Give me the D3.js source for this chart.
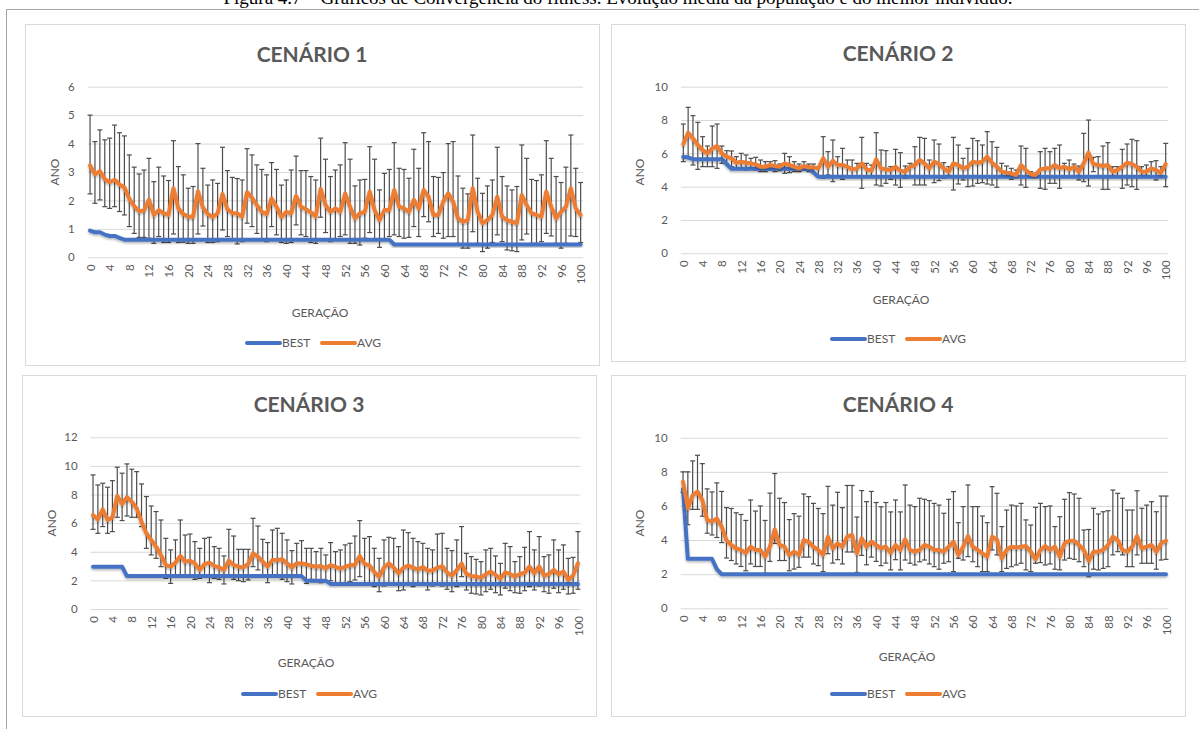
<!DOCTYPE html>
<html lang="pt">
<head>
<meta charset="utf-8">
<title>Convergência do fitness</title>
<script src="https://cdnjs.cloudflare.com/ajax/libs/d3/7.8.5/d3.min.js"></script>
<style>
  body { margin: 0; background: #fff; }
  svg text { font-family: Lato, "Open Sans", sans-serif; fill: #595959; }
  svg text.legenda { font-family: "Liberation Serif", "Times New Roman", serif; fill: #000; }
</style>
</head>
<body>
<svg width="1199" height="729"></svg>
<script>
// geracoes 0..100 (eixo X)
var geracoes = d3.range(0, 101);

// ---- Cenario 1 ----
var best1 = [0.94,0.88,0.88,0.8,0.75,0.75,0.68,0.62,0.62,0.62,
  0.62,0.62,0.62,0.62,0.62,0.62,0.62,0.62,0.62,0.62,
  0.62,0.62,0.62,0.62,0.62,0.62,0.62,0.62,0.62,0.62,
  0.62,0.62,0.62,0.62,0.62,0.62,0.62,0.62,0.62,0.62,
  0.62,0.62,0.62,0.62,0.62,0.62,0.62,0.62,0.62,0.62,
  0.62,0.62,0.62,0.62,0.62,0.62,0.62,0.62,0.62,0.62,
  0.62,0.62,0.45,0.45,0.45,0.45,0.45,0.45,0.45,0.45,
  0.45,0.45,0.45,0.45,0.45,0.45,0.45,0.45,0.45,0.45,
  0.45,0.45,0.45,0.45,0.45,0.45,0.45,0.45,0.45,0.45,
  0.45,0.45,0.45,0.45,0.45,0.45,0.45,0.45,0.45,0.45,
  0.45];
var avg1 = [3.23,2.92,3.03,2.75,2.64,2.73,2.56,2.46,2.06,1.8,
  1.62,1.65,2.03,1.49,1.66,1.55,1.49,2.43,1.72,1.52,
  1.43,1.43,2.32,1.75,1.52,1.42,1.55,2.23,1.69,1.56,
  1.54,1.43,2.29,2.1,1.84,1.6,1.52,2.07,1.78,1.42,
  1.6,1.55,2.16,1.78,1.69,1.58,1.44,2.41,1.84,1.6,
  1.72,1.6,2.25,1.78,1.37,1.55,1.6,2.31,1.66,1.31,
  1.66,1.66,2.37,1.78,1.72,1.6,2.02,1.72,2.37,2.13,
  1.49,1.49,1.96,2.25,1.96,1.37,1.25,1.31,2.43,1.6,
  1.2,1.31,1.49,2.13,1.43,1.31,1.25,1.2,2.19,1.84,
  1.55,1.49,1.43,2.31,1.78,1.37,1.6,1.78,2.43,1.72,
  1.49];
var hi1 = [5.0,4.07,4.48,4.13,4.19,4.65,4.38,4.27,3.6,3.17,
  2.93,3.07,3.48,2.66,3.17,2.86,2.7,4.1,3.19,2.9,
  2.43,2.49,4.0,3.13,2.54,2.72,2.6,3.87,3.05,2.81,
  2.77,2.72,3.82,3.6,3.25,3.09,2.9,3.33,3.09,2.54,
  2.72,3.07,3.56,3.05,3.05,2.84,2.72,4.19,3.45,2.84,
  3.07,3.25,4.03,3.45,2.51,2.72,2.74,3.89,3.45,2.37,
  2.95,3.09,4.03,3.13,3.09,2.78,3.8,3.13,4.38,4.07,
  2.84,2.81,2.98,4.0,4.07,2.86,2.43,2.23,4.3,2.78,
  2.25,2.51,2.72,3.87,2.84,2.51,2.37,2.49,3.95,3.48,
  2.74,2.7,2.9,4.1,3.48,2.84,2.63,3.17,4.3,3.13,
  2.63];
var lo1 = [2.23,1.9,2.02,1.78,1.72,1.78,1.61,1.49,1.08,0.84,
  0.7,0.7,0.67,0.49,0.73,0.52,0.52,0.82,0.52,0.53,
  0.49,0.49,0.82,1.1,0.52,0.52,0.55,0.96,0.73,0.61,
  0.47,0.55,1.2,1.08,0.84,0.63,0.55,1.08,0.79,0.52,
  0.49,0.52,1.14,0.79,0.73,0.52,0.49,1.41,0.87,0.55,
  0.63,0.73,0.79,0.49,0.49,0.43,0.67,0.87,0.61,0.35,
  0.61,0.73,0.79,0.73,0.67,0.7,1.08,0.73,1.43,1.25,
  0.73,0.84,0.67,0.73,0.73,0.49,0.32,0.32,0.9,0.49,
  0.2,0.32,0.52,0.79,0.55,0.26,0.23,0.2,0.61,0.82,
  0.49,0.49,0.55,0.84,0.75,0.49,0.32,0.49,0.75,0.73,
  0.52];

// ---- Cenario 2 ----
var best2 = [5.8,5.75,5.65,5.65,5.65,5.65,5.65,5.65,5.65,5.35,
  5.08,5.08,5.08,5.08,5.08,5.08,5.08,5.08,5.08,5.08,
  5.08,5.08,5.08,5.08,5.08,5.08,5.08,4.85,4.6,4.6,
  4.6,4.6,4.6,4.6,4.6,4.6,4.6,4.6,4.6,4.6,
  4.6,4.6,4.6,4.6,4.6,4.6,4.6,4.6,4.6,4.6,
  4.6,4.6,4.6,4.6,4.6,4.6,4.6,4.6,4.6,4.6,
  4.6,4.6,4.6,4.6,4.6,4.6,4.6,4.6,4.6,4.6,
  4.6,4.6,4.6,4.6,4.6,4.6,4.6,4.6,4.6,4.6,
  4.6,4.6,4.6,4.6,4.6,4.6,4.6,4.6,4.6,4.6,
  4.6,4.6,4.6,4.6,4.6,4.6,4.6,4.6,4.6,4.6,
  4.6];
var avg2 = [6.56,7.24,6.9,6.5,6.2,6.0,6.3,6.44,6.0,5.8,
  5.7,5.44,5.5,5.44,5.4,5.34,5.2,5.2,5.3,5.24,
  5.2,5.4,5.3,5.2,5.1,5.24,5.16,5.16,5.1,5.7,
  5.2,5.56,5.3,5.3,5.2,5.04,5.1,5.4,5.04,4.96,
  5.64,5.1,5.04,5.0,5.2,4.96,4.9,5.2,5.3,5.6,
  5.4,5.1,5.5,5.36,5.1,4.9,5.4,5.3,5.1,5.2,
  5.5,5.44,5.5,5.8,5.44,5.2,4.9,4.84,4.8,4.7,
  5.3,5.0,4.76,4.7,5.04,5.1,5.1,5.3,5.1,5.2,
  5.04,5.2,4.9,5.4,6.04,5.36,5.3,5.24,5.3,4.9,
  5.0,5.2,5.44,5.36,5.2,4.9,4.9,5.1,5.0,4.84,
  5.36];
var hi2 = [7.76,8.76,8.26,7.86,7.0,6.44,7.64,7.76,6.44,6.16,
  6.14,5.8,6.0,5.9,5.7,5.76,5.6,5.5,5.5,5.56,
  5.36,6.0,5.8,5.5,5.36,5.5,5.36,5.36,5.2,7.0,
  6.1,6.8,5.8,6.3,5.6,5.6,5.4,6.96,5.4,5.3,
  7.24,6.2,6.16,5.2,6.24,6.04,5.24,5.4,6.4,6.96,
  6.9,5.6,6.8,6.56,5.44,5.2,6.96,6.5,5.7,6.3,
  6.9,6.76,6.5,7.3,6.7,6.36,5.4,5.24,5.1,5.0,
  6.44,6.3,4.9,4.8,6.1,6.3,6.1,6.3,6.5,5.4,
  5.6,5.36,5.24,7.2,8.0,5.76,5.8,6.44,6.64,5.2,
  5.2,6.24,6.56,6.84,6.76,5.2,5.3,5.5,5.56,5.2,
  6.6];
var lo2 = [5.5,5.7,5.3,5.04,5.2,5.2,5.2,5.1,5.4,5.4,
  5.2,5.1,5.04,5.0,5.1,5.0,4.9,4.9,5.0,4.9,
  4.96,4.8,4.84,4.9,4.9,5.0,4.9,4.84,4.6,4.5,
  4.7,4.3,4.6,4.44,4.6,4.6,4.6,3.9,4.6,4.6,
  4.1,4.04,4.2,4.44,4.1,3.96,4.5,4.6,4.1,4.1,
  4.1,4.6,4.24,4.36,4.5,4.6,3.8,4.16,4.4,4.0,
  4.04,4.2,4.24,4.16,4.1,3.96,4.6,4.56,4.44,4.6,
  4.1,3.96,4.6,4.64,3.9,3.84,4.2,4.2,3.9,4.6,
  4.6,4.64,4.4,4.3,4.04,4.9,4.6,3.84,3.84,4.6,
  4.6,3.9,4.1,4.0,3.84,4.6,4.56,4.6,4.4,4.6,
  4.0];

// ---- Cenario 3 ----
var best3 = [2.95,2.95,2.95,2.95,2.95,2.95,2.95,2.3,2.3,2.3,
  2.3,2.3,2.3,2.3,2.3,2.3,2.3,2.3,2.3,2.3,
  2.3,2.3,2.3,2.3,2.3,2.3,2.3,2.3,2.3,2.3,
  2.3,2.3,2.3,2.3,2.3,2.3,2.3,2.3,2.3,2.3,
  2.3,2.3,2.3,2.3,1.98,1.98,1.98,1.98,1.98,1.75,
  1.75,1.75,1.75,1.75,1.75,1.75,1.75,1.75,1.75,1.75,
  1.75,1.75,1.75,1.75,1.75,1.75,1.75,1.75,1.75,1.75,
  1.75,1.75,1.75,1.75,1.75,1.75,1.75,1.75,1.75,1.75,
  1.75,1.75,1.75,1.75,1.75,1.75,1.75,1.75,1.75,1.75,
  1.75,1.75,1.75,1.75,1.75,1.75,1.75,1.75,1.75,1.75,
  1.75];
var avg3 = [6.57,6.27,6.97,6.22,6.41,7.9,7.34,7.81,7.5,7.04,
  6.1,5.29,4.83,4.36,3.78,3.08,2.96,3.24,3.71,3.31,
  3.38,3.19,2.73,3.15,3.24,3.01,2.91,2.73,3.38,3.08,
  2.96,2.91,3.15,3.89,3.66,3.31,2.96,3.43,3.43,3.47,
  3.19,2.91,3.19,3.18,3.12,3.03,2.95,3.0,2.85,3.07,
  2.95,2.82,2.94,3.06,3.1,3.7,3.15,3.05,2.6,2.25,
  2.9,3.2,2.9,2.5,2.88,3.03,2.89,2.76,2.94,2.68,
  2.7,2.88,3.0,2.56,2.33,2.73,3.17,2.45,2.31,2.27,
  2.18,2.43,2.62,2.38,2.13,2.56,2.45,2.27,2.45,2.53,
  2.97,2.5,2.97,2.33,2.45,2.73,2.43,2.62,2.05,2.35,
  3.2];
var hi3 = [9.37,8.67,8.79,8.51,8.97,9.91,9.49,10.14,9.77,9.6,
  8.74,7.86,7.2,6.81,6.22,4.94,4.13,4.83,6.22,5.17,
  5.24,4.71,4.24,4.94,5.01,4.36,4.24,3.71,5.57,5.1,
  4.17,4.17,4.17,6.34,5.8,4.87,4.64,5.52,5.64,5.29,
  4.83,4.08,4.59,4.78,4.24,4.24,4.01,4.24,3.78,4.64,
  4.01,4.13,4.48,4.59,5.1,6.18,4.94,5.06,4.24,3.54,
  4.83,5.01,4.94,4.36,5.52,5.34,4.94,4.71,4.59,4.24,
  4.13,5.24,5.29,4.24,4.08,4.83,5.76,3.89,3.66,3.47,
  3.31,4.13,4.24,3.71,3.19,4.59,4.36,3.31,3.66,4.31,
  5.41,4.13,5.06,3.66,3.78,4.83,4.13,4.48,3.54,3.61,
  5.41];
var lo3 = [5.57,5.29,5.76,5.29,5.41,6.41,6.18,6.5,6.41,6.41,
  5.76,4.24,3.78,3.54,2.96,2.14,1.79,2.26,2.38,2.38,
  2.26,2.07,2.14,2.26,1.84,2.14,2.07,1.75,2.31,2.07,
  1.98,1.91,2.03,2.96,2.73,2.26,1.84,2.26,2.31,2.07,
  1.91,1.75,2.26,2.21,1.79,2.07,1.91,1.84,1.91,1.98,
  1.79,1.68,1.79,1.91,2.03,2.26,1.75,1.75,1.56,1.21,
  1.61,1.75,1.68,1.28,1.33,1.75,1.56,1.68,1.68,1.33,
  1.61,1.75,1.61,1.38,1.21,1.56,2.26,1.33,1.1,1.05,
  0.98,1.21,1.38,1.14,0.98,1.45,1.28,1.14,1.1,1.28,
  1.56,1.33,1.61,1.21,1.1,1.45,1.14,1.38,1.05,1.1,
  1.38];

// ---- Cenario 4 ----
var best4 = [7.0,2.9,2.9,2.9,2.9,2.9,2.9,2.3,2.0,2.0,
  2.0,2.0,2.0,2.0,2.0,2.0,2.0,2.0,2.0,2.0,
  2.0,2.0,2.0,2.0,2.0,2.0,2.0,2.0,2.0,2.0,
  2.0,2.0,2.0,2.0,2.0,2.0,2.0,2.0,2.0,2.0,
  2.0,2.0,2.0,2.0,2.0,2.0,2.0,2.0,2.0,2.0,
  2.0,2.0,2.0,2.0,2.0,2.0,2.0,2.0,2.0,2.0,
  2.0,2.0,2.0,2.0,2.0,2.0,2.0,2.0,2.0,2.0,
  2.0,2.0,2.0,2.0,2.0,2.0,2.0,2.0,2.0,2.0,
  2.0,2.0,2.0,2.0,2.0,2.0,2.0,2.0,2.0,2.0,
  2.0,2.0,2.0,2.0,2.0,2.0,2.0,2.0,2.0,2.0,
  2.0];
var avg4 = [7.42,5.86,6.64,6.84,6.35,5.18,5.08,5.27,4.79,4.0,
  3.71,3.52,3.42,3.26,3.61,3.42,3.42,3.03,3.61,4.63,
  3.71,3.61,3.13,3.32,3.13,4.0,3.9,3.61,3.42,3.13,
  4.2,3.52,3.81,3.61,4.2,4.3,3.22,4.1,3.61,3.9,
  3.71,3.52,3.61,3.26,3.71,3.42,4.05,3.42,3.32,3.42,
  3.71,3.61,3.42,3.42,3.32,3.61,3.9,3.13,3.61,4.24,
  3.61,3.42,3.22,3.03,4.2,4.04,2.93,3.42,3.61,3.57,
  3.61,3.65,3.32,2.87,3.42,3.65,3.42,3.61,3.03,3.81,
  3.96,3.96,3.71,3.42,2.79,3.32,3.32,3.42,3.71,4.2,
  4.0,3.42,3.32,3.61,4.24,3.52,3.61,3.71,3.32,3.81,
  3.96];
var hi4 = [8.0,8.0,8.64,8.97,8.48,7.0,6.82,7.35,6.85,5.9,
  5.85,5.6,5.5,5.15,6.35,5.7,6.0,5.15,6.75,7.9,
  6.45,6.2,5.2,5.55,5.4,6.7,6.55,6.15,5.85,5.55,
  7.15,6.05,6.8,5.9,7.2,7.2,5.35,6.9,6.25,6.85,
  6.2,5.95,6.2,5.65,6.35,5.65,7.23,6.05,5.96,6.45,
  6.39,6.31,6.15,6.05,5.57,6.39,6.84,5.02,5.96,7.23,
  5.96,5.96,5.41,5.02,7.13,6.74,4.79,5.76,6.05,6.0,
  6.15,5.18,4.88,5.92,6.15,5.96,6.0,4.79,5.37,6.39,
  6.78,6.7,6.45,4.59,4.62,5.86,5.53,5.66,5.72,6.93,
  6.74,6.45,5.76,5.76,6.89,5.86,6.05,6.25,5.66,6.58,
  6.58];
var lo4 = [6.8,4.9,5.8,5.8,5.4,4.4,4.3,4.15,3.85,2.95,
  2.8,2.6,2.45,2.2,2.6,2.45,2.45,2.05,2.75,3.8,
  2.8,2.8,2.2,2.3,2.4,3.0,3.0,2.6,2.5,2.15,
  3.2,2.65,2.85,2.6,3.3,3.3,2.1,3.1,2.55,3.0,
  2.75,2.5,2.65,2.25,2.85,2.25,2.83,2.64,2.54,2.73,
  2.83,2.6,2.44,2.29,2.64,2.73,2.15,2.93,2.83,3.03,
  2.73,2.44,2.15,2.15,3.42,3.13,2.15,2.34,2.44,2.54,
  2.64,2.25,2.15,2.64,2.68,2.54,2.6,2.29,2.25,2.83,
  2.93,2.87,2.73,2.44,1.85,2.29,2.25,2.34,2.44,3.13,
  3.32,3.13,2.44,2.44,3.13,2.64,2.64,2.64,2.29,2.83,
  2.87];

var corBest = "#4472c4", corAvg = "#ed7d31";

var svg = d3.select("svg");
svg.append("rect").attr("width", 1199).attr("height", 729).attr("fill", "#fff");

// sombra leve das linhas (como no Excel)
svg.append("defs").append("filter").attr("id", "sombra")
    .attr("x", "-5%").attr("y", "-20%").attr("width", "110%").attr("height", "140%")
  .append("feDropShadow")
    .attr("dx", 0).attr("dy", 1.5).attr("stdDeviation", 1)
    .attr("flood-color", "#000").attr("flood-opacity", 0.3);

// legenda da figura (cortada no topo, como na imagem original)
svg.append("text").attr("class", "legenda")
    .attr("x", 618).attr("y", 4)
    .attr("text-anchor", "middle")
    .style("font-size", "19px")
    .text("Figura 4.7 – Gráficos de Convergência do fitness. Evolução média da população e do melhor indivíduo.");

// moldura externa
svg.append("path")
    .attr("d", "M6.5,729 V9.5 H1199")
    .attr("fill", "none").attr("stroke", "#a6a6a6").attr("stroke-width", 1);

var paineis = [
  {titulo: "CENÁRIO 1", best: best1, avg: avg1, hi: hi1, lo: lo1, yMax: 6, yStep: 1,
   box: {x: 25.5, y: 24.5, w: 574, h: 341}, plot: {l: 87.6, r: 583.1, t: 86.7, b: 257.3},
   tituloX: 312, tituloY: 62, anoX: 55, anoY: 172, gerX: 320, gerY: 317, legX: 247, legY: 343},
  {titulo: "CENÁRIO 2", best: best2, avg: avg2, hi: hi2, lo: lo2, yMax: 10, yStep: 2,
   box: {x: 611.5, y: 24.5, w: 574, h: 337}, plot: {l: 680.9, r: 1168.1, t: 86.7, b: 253.3},
   tituloX: 898, tituloY: 61, anoX: 640, anoY: 172, gerX: 901, gerY: 304, legX: 832, legY: 339},
  {titulo: "CENÁRIO 3", best: best3, avg: avg3, hi: hi3, lo: lo3, yMax: 12, yStep: 2,
   box: {x: 22.5, y: 375.5, w: 574, h: 341}, plot: {l: 90.6, r: 580.4, t: 437.3, b: 609},
   tituloX: 309, tituloY: 412, anoX: 52, anoY: 523, gerX: 306, gerY: 667, legX: 243, legY: 694},
  {titulo: "CENÁRIO 4", best: best4, avg: avg4, hi: hi4, lo: lo4, yMax: 10, yStep: 2,
   box: {x: 611.5, y: 375.5, w: 574, h: 341}, plot: {l: 680.6, r: 1168.4, t: 437.7, b: 608.3},
   tituloX: 898, tituloY: 412, anoX: 640, anoY: 523, gerX: 907, gerY: 661, legX: 832, legY: 694}
];

paineis.forEach(desenhaPainel);

function desenhaPainel(p) {
  var g = svg.append("g");
  var x = d3.scalePoint().domain(geracoes).range([p.plot.l, p.plot.r]).padding(0.5);
  var y = d3.scaleLinear().domain([0, p.yMax]).range([p.plot.b, p.plot.t]);

  g.append("rect")
      .attr("x", p.box.x).attr("y", p.box.y).attr("width", p.box.w).attr("height", p.box.h)
      .attr("fill", "#fff").attr("stroke", "#d9d9d9");

  // eixo Y + linhas de grade
  var yAxis = g.append("g")
      .attr("transform", "translate(" + p.plot.l + ",0)")
      .call(d3.axisLeft(y)
        .tickValues(d3.range(0, p.yMax + 0.001, p.yStep))
        .tickFormat(d3.format("d"))
        .tickSize(-(p.plot.r - p.plot.l))
        .tickPadding(13));
  yAxis.select(".domain").remove();
  yAxis.selectAll(".tick line").attr("stroke", "#d9d9d9");
  yAxis.selectAll(".tick text").style("font-size", "11.5px").attr("fill", "#595959");

  // eixo X (rotulos a cada 4 geracoes)
  var xAxis = g.append("g")
      .attr("transform", "translate(0," + p.plot.b + ")")
      .call(d3.axisBottom(x)
        .tickValues(geracoes.filter(function(d) { return d % 4 === 0; }))
        .tickSize(0));
  xAxis.select(".domain").remove();
  xAxis.selectAll(".tick text")
      .attr("transform", "rotate(-90)")
      .attr("text-anchor", "end")
      .attr("x", -7).attr("y", 0).attr("dy", "0.35em")
      .style("font-size", "11.5px").attr("fill", "#595959");

  // barras de erro da media
  var barras = g.append("g").attr("stroke", "#4d4d4d").attr("stroke-width", 1.2);
  var dadosErro = geracoes.map(function(d, i) { return {gen: d, hi: p.hi[i], lo: p.lo[i]}; });
  barras.selectAll("line.v").data(dadosErro).enter().append("line")
      .attr("x1", function(d) { return x(d.gen); }).attr("x2", function(d) { return x(d.gen); })
      .attr("y1", function(d) { return y(d.hi); }).attr("y2", function(d) { return y(d.lo); });
  ["hi", "lo"].forEach(function(k) {
    barras.selectAll("line.c" + k).data(dadosErro).enter().append("line")
        .attr("x1", function(d) { return x(d.gen) - 2.5; }).attr("x2", function(d) { return x(d.gen) + 2.5; })
        .attr("y1", function(d) { return y(d[k]); }).attr("y2", function(d) { return y(d[k]); });
  });

  var linha = d3.line()
      .x(function(d, i) { return x(geracoes[i]); })
      .y(function(d) { return y(d); });

  g.append("path").datum(p.best)
      .attr("d", linha).attr("fill", "none")
      .attr("stroke", corBest).attr("stroke-width", 4)
      .attr("stroke-linejoin", "round").attr("stroke-linecap", "round")
      .attr("filter", "url(#sombra)");
  g.append("path").datum(p.avg)
      .attr("d", linha).attr("fill", "none")
      .attr("stroke", corAvg).attr("stroke-width", 4)
      .attr("stroke-linejoin", "round").attr("stroke-linecap", "round")
      .attr("filter", "url(#sombra)");

  // titulos
  g.append("text").attr("x", p.tituloX).attr("y", p.tituloY)
      .attr("text-anchor", "middle")
      .style("font-size", "21px").style("font-weight", "bold")
      .text(p.titulo);
  g.append("text")
      .attr("transform", "translate(" + p.anoX + "," + p.anoY + ") rotate(-90)")
      .attr("text-anchor", "middle").attr("dy", "0.35em")
      .style("font-size", "12px")
      .text("ANO");
  g.append("text").attr("x", p.gerX).attr("y", p.gerY)
      .attr("text-anchor", "middle")
      .style("font-size", "12px")
      .text("GERAÇÃO");

  // legenda
  var leg = g.append("g").attr("transform", "translate(" + p.legX + "," + p.legY + ")");
  [["BEST", corBest, 0], ["AVG", corAvg, 75]].forEach(function(s) {
    leg.append("line").attr("x1", s[2]).attr("x2", s[2] + 33)
        .attr("stroke", s[1]).attr("stroke-width", 4).attr("stroke-linecap", "round");
    leg.append("text").attr("x", s[2] + 35).attr("dy", "0.35em")
        .style("font-size", "12px")
        .text(s[0]);
  });
}
</script>
</body>
</html>
